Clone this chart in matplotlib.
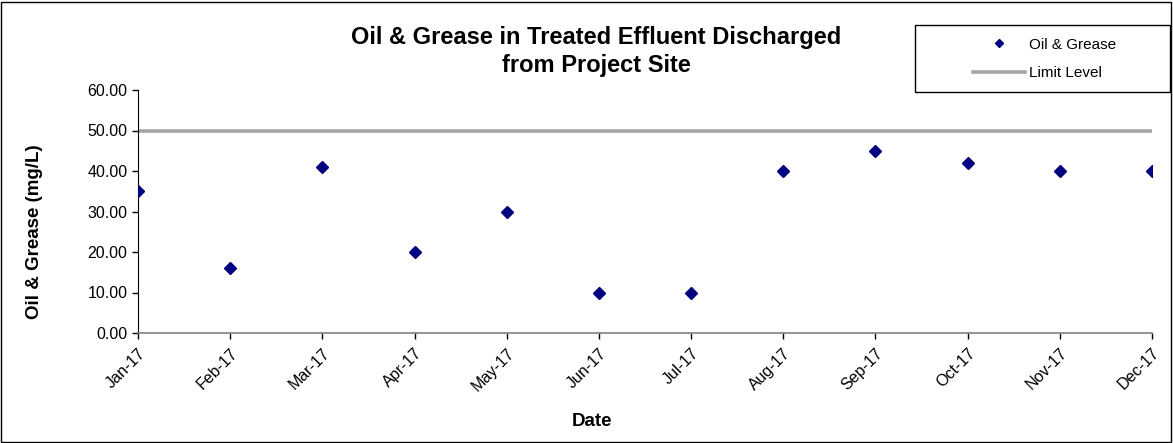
import matplotlib
matplotlib.use("Agg")
import matplotlib.pyplot as plt
from matplotlib.patches import Rectangle
from matplotlib.lines import Line2D

months = ["Jan-17", "Feb-17", "Mar-17", "Apr-17", "May-17", "Jun-17",
          "Jul-17", "Aug-17", "Sep-17", "Oct-17", "Nov-17", "Dec-17"]
oil_grease = [35, 16, 41, 20, 30, 10, 10, 40, 45, 42, 40, 40]
limit_level = [50] * len(months)
y_ticks = [0, 10, 20, 30, 40, 50, 60]

plt.rcParams['font.family'] = ['Liberation Sans', 'DejaVu Sans']

W, H = 1173, 443
fig = plt.figure(figsize=(W / 100, H / 100), dpi=100)
ax = fig.add_axes([138 / W, 1 - 333 / H, (1152 - 138) / W, (333 - 90) / H])

x = list(range(len(months)))
ax.plot(x, limit_level, color='#A6A6A6', lw=2.6, solid_capstyle='butt', zorder=2)
ax.plot(x, oil_grease, linestyle='none', marker='D', markersize=6,
        color='#000080', zorder=3)

ax.set_xlim(0, len(months) - 1)
ax.set_ylim(0, 60)
ax.set_yticks(y_ticks)
ax.set_yticklabels([f"{v:.2f}" for v in y_ticks], fontsize=11.5)
ax.set_xticks(x)
ax.set_xticklabels(months, rotation=45, ha='right', rotation_mode='anchor', fontsize=11.5)
ax.tick_params(axis='both', direction='out', length=4, width=1, color='black')
ax.tick_params(axis='x', pad=5)

for s in ['top', 'right']:
    ax.spines[s].set_visible(False)
ax.spines['left'].set_color('black')
ax.spines['bottom'].set_color('#808080')
ax.spines['bottom'].set_linewidth(1.2)

fig.text(596 / W, 1 - 51.5 / H,
         "Oil & Grease in Treated Effluent Discharged\nfrom Project Site",
         ha='center', va='center', fontsize=17, fontweight='bold', linespacing=1.25)
fig.text(35 / W, 1 - 232 / H, "Oil & Grease (mg/L)", rotation=90,
         ha='center', va='center', fontsize=13.5, fontweight='bold')
fig.text(592 / W, 1 - 421 / H, "Date", ha='center', va='center',
         fontsize=13.5, fontweight='bold')

# legend box
fig.patches.append(Rectangle((915 / W, 1 - 92 / H), (1170 - 915) / W, (92 - 25) / H,
                             transform=fig.transFigure, fill=False,
                             edgecolor='black', lw=1))
handles = [Line2D([], [], linestyle='none', marker='D', markersize=4.5, color='#000080'),
           Line2D([], [], color='#A6A6A6', lw=2.6)]
fig.legend(handles, ["Oil & Grease", "Limit Level"], loc='center',
           bbox_to_anchor=(1044.5 / W, 1 - 59 / H), frameon=False, fontsize=11,
           handlelength=3.4, handletextpad=0.3, labelspacing=0.95)

# outer border
fig.patches.append(Rectangle((1 / W, 1 / H), (W - 3) / W, (H - 3) / H,
                             transform=fig.transFigure, fill=False,
                             edgecolor='black', lw=1))

fig.savefig("out.png", dpi=100)
